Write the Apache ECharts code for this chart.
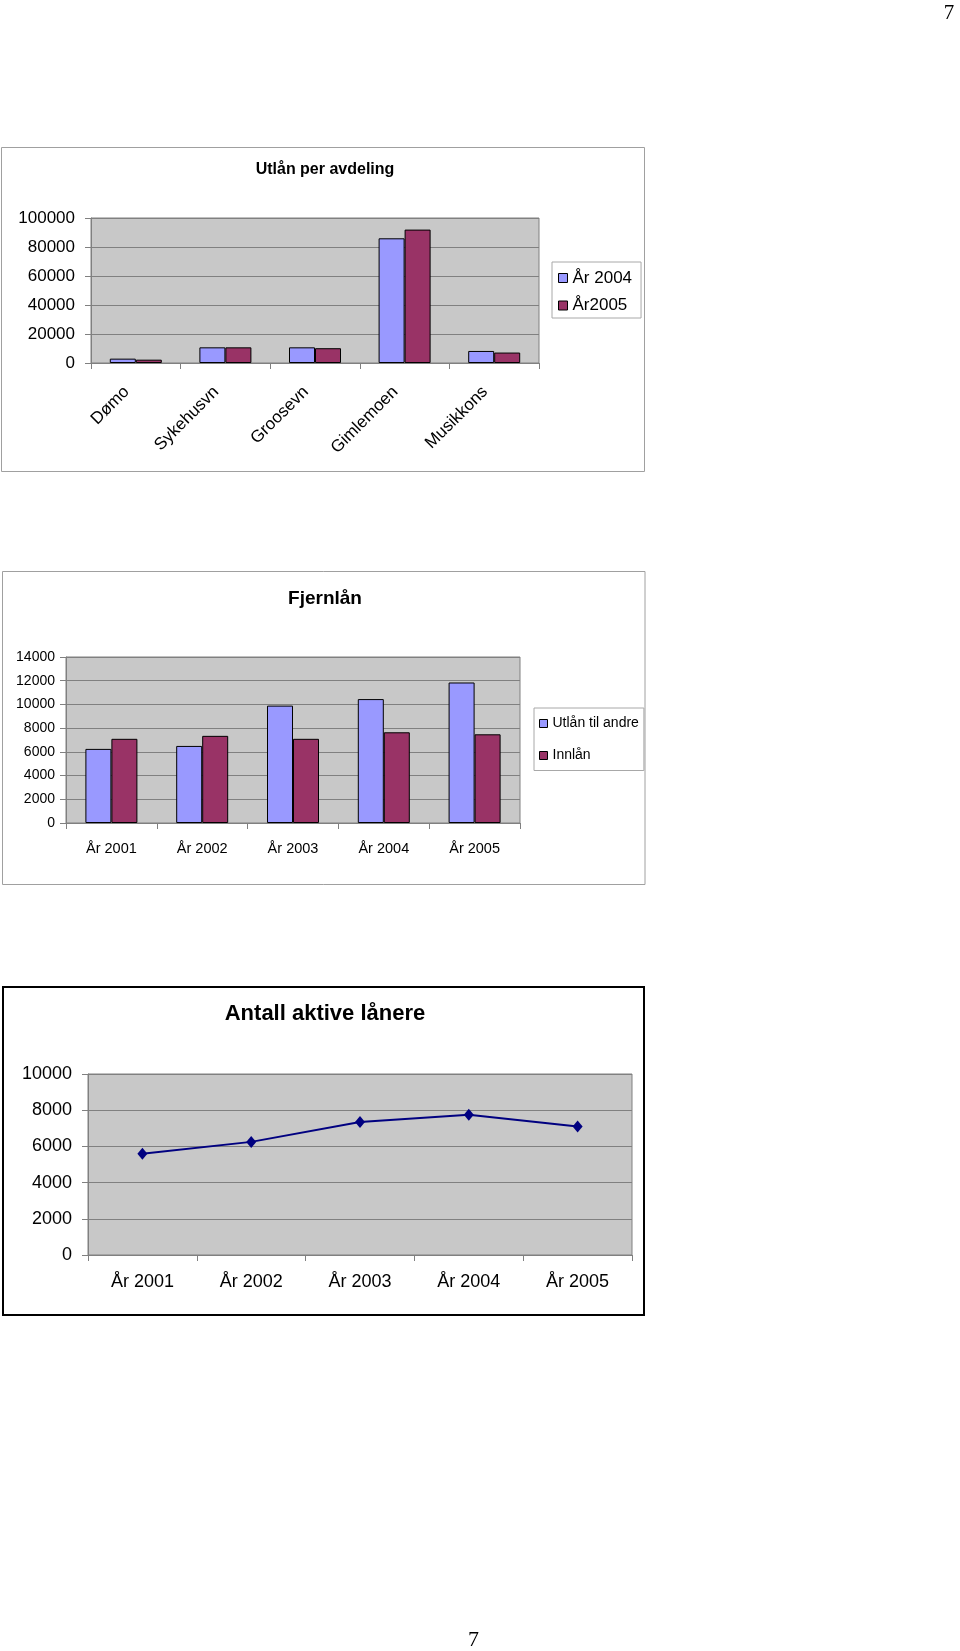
<!DOCTYPE html>
<html>
<head>
<meta charset="utf-8">
<script src="https://cdn.jsdelivr.net/npm/echarts@6/dist/echarts.min.js"></script>
<style>
html,body{margin:0;padding:0;background:#fff;}
#c{width:960px;height:1651px;}
</style>
</head>
<body>
<div id="c"></div>
<script>
// ---- data ----
const avdelinger = ['Dømo', 'Sykehusvn', 'Groosevn', 'Gimlemoen', 'Musikkons'];
const utlan2004 = [3000, 10800, 10800, 86000, 8300];
const utlan2005 = [2300, 10800, 10200, 92000, 7200];

const aar = ['År 2001', 'År 2002', 'År 2003', 'År 2004', 'År 2005'];
const utlanTilAndre = [6250, 6500, 9900, 10450, 11850];
const innlan = [7100, 7350, 7100, 7650, 7480];

const aktiveLanere = [5600, 6250, 7350, 7750, 7100];

const titles = ['Utlån per avdeling', 'Fjernlån', 'Antall aktive lånere'];
const pageNumber = '7';

// ---- styling ----
const FONT = '"Liberation Sans", Arial, Helvetica, sans-serif';
const SERIF = '"Liberation Serif", "Times New Roman", "DejaVu Serif", serif';
const PLOT_BG = '#c8c8c8';
const GRID_LINE = '#808080';
const BLUE = '#9999ff';
const MAROON = '#993366';
const plain = v => String(v);

function xCat(gi, data, label) {
  return {
    gridIndex: gi, type: 'category', data: data,
    axisLine: { lineStyle: { color: GRID_LINE, width: 1 } },
    axisTick: { show: true, length: 6, lineStyle: { color: GRID_LINE } },
    axisLabel: Object.assign({ interval: 0, color: '#000', fontFamily: FONT }, label)
  };
}
function yVal(gi, max, interval, label) {
  return {
    gridIndex: gi, type: 'value', min: 0, max: max, interval: interval,
    axisLine: { show: true, lineStyle: { color: GRID_LINE, width: 1 } },
    axisTick: { show: true, length: 6, lineStyle: { color: GRID_LINE } },
    splitLine: { show: true, lineStyle: { color: GRID_LINE, width: 1 } },
    axisLabel: Object.assign({ color: '#000', fontFamily: FONT, formatter: plain }, label)
  };
}

const chart = echarts.init(document.getElementById('c'), null, { renderer: 'canvas' });

const option = {
  animation: false,
  backgroundColor: '#ffffff',
  title: [
    { text: titles[0], left: 325, top: 170, textAlign: 'center', textVerticalAlign: 'middle', padding: 0,
      textStyle: { fontFamily: FONT, fontSize: 16, fontWeight: 'bold', color: '#000' } },
    { text: titles[1], left: 325, top: 599, textAlign: 'center', textVerticalAlign: 'middle', padding: 0,
      textStyle: { fontFamily: FONT, fontSize: 19, fontWeight: 'bold', color: '#000' } },
    { text: titles[2], left: 325, top: 1014, textAlign: 'center', textVerticalAlign: 'middle', padding: 0,
      textStyle: { fontFamily: FONT, fontSize: 22, fontWeight: 'bold', color: '#000' } }
  ],
  grid: [
    { left: 91, top: 218, width: 448, height: 145, show: true, backgroundColor: PLOT_BG, borderColor: GRID_LINE, borderWidth: 1 },
    { left: 66, top: 657, width: 454, height: 166, show: true, backgroundColor: PLOT_BG, borderColor: GRID_LINE, borderWidth: 1 },
    { left: 88, top: 1074, width: 544, height: 181, show: true, backgroundColor: PLOT_BG, borderColor: GRID_LINE, borderWidth: 1 }
  ],
  legend: [
    { data: ['År 2004', 'År2005'], orient: 'vertical', left: 552, top: 262,
      icon: 'rect', itemWidth: 9, itemHeight: 9, itemGap: 10.5,
      padding: [7.5, 9, 4, 6], backgroundColor: '#fff', borderColor: '#a8a8a8', borderWidth: 1,
      itemStyle: { borderColor: '#000', borderWidth: 1 },
      textStyle: { fontFamily: FONT, fontSize: 17, color: '#000' } },
    { data: ['Utlån til andre', 'Innlån'], orient: 'vertical', left: 534, top: 708,
      icon: 'rect', itemWidth: 8, itemHeight: 8, itemGap: 18,
      padding: [8.5, 5, 8, 5], backgroundColor: '#fff', borderColor: '#a8a8a8', borderWidth: 1,
      itemStyle: { borderColor: '#000', borderWidth: 1 },
      textStyle: { fontFamily: FONT, fontSize: 14, color: '#000' } }
  ],
  xAxis: [
    xCat(0, avdelinger, { rotate: 45, margin: 17, padding: [0, 13, 0, 0], fontSize: 17 }),
    xCat(1, aar, { margin: 18, fontSize: 14.5 }),
    xCat(2, aar, { margin: 18, fontSize: 18 })
  ],
  yAxis: [
    yVal(0, 100000, 20000, { margin: 16, fontSize: 17 }),
    yVal(1, 14000, 2000, { margin: 11, fontSize: 14 }),
    yVal(2, 10000, 2000, { margin: 16, fontSize: 18 })
  ],
  series: [
    { name: 'År 2004', type: 'bar', xAxisIndex: 0, yAxisIndex: 0, data: utlan2004,
      barWidth: 26, barGap: '0%', itemStyle: { color: BLUE, borderColor: '#000', borderWidth: 1 } },
    { name: 'År2005', type: 'bar', xAxisIndex: 0, yAxisIndex: 0, data: utlan2005,
      barWidth: 26, barGap: '0%', itemStyle: { color: MAROON, borderColor: '#000', borderWidth: 1 } },
    { name: 'Utlån til andre', type: 'bar', xAxisIndex: 1, yAxisIndex: 1, data: utlanTilAndre,
      barWidth: 26, barGap: '0%', itemStyle: { color: BLUE, borderColor: '#000', borderWidth: 1 } },
    { name: 'Innlån', type: 'bar', xAxisIndex: 1, yAxisIndex: 1, data: innlan,
      barWidth: 26, barGap: '0%', itemStyle: { color: MAROON, borderColor: '#000', borderWidth: 1 } },
    { name: 'Antall aktive lånere', type: 'line', xAxisIndex: 2, yAxisIndex: 2, data: aktiveLanere,
      symbol: 'diamond', symbolSize: [10, 12], showAllSymbol: true,
      lineStyle: { color: '#000080', width: 2 },
      itemStyle: { color: '#000080', borderColor: '#000080', borderWidth: 0 } }
  ],
  graphic: [
    { type: 'rect', z: -10, silent: true, shape: { x: 1.5, y: 147.5, width: 643, height: 324 },
      style: { fill: 'none', stroke: '#a0a0a0', lineWidth: 1 } },
    { type: 'rect', z: -10, silent: true, shape: { x: 2.5, y: 571.5, width: 642.5, height: 313 },
      style: { fill: 'none', stroke: '#a0a0a0', lineWidth: 1 } },
    { type: 'rect', z: -10, silent: true, shape: { x: 3, y: 987, width: 641, height: 328 },
      style: { fill: 'none', stroke: '#000', lineWidth: 2 } },
    { type: 'text', silent: true, style: { text: pageNumber, x: 949, y: 13, align: 'center', verticalAlign: 'middle',
      font: '21px ' + SERIF, fill: '#000' } },
    { type: 'text', silent: true, style: { text: pageNumber, x: 473.5, y: 1640.5, align: 'center', verticalAlign: 'middle',
      font: '22px ' + SERIF, fill: '#000' } }
  ]
};
chart.setOption(option);
</script>
</body>
</html>
